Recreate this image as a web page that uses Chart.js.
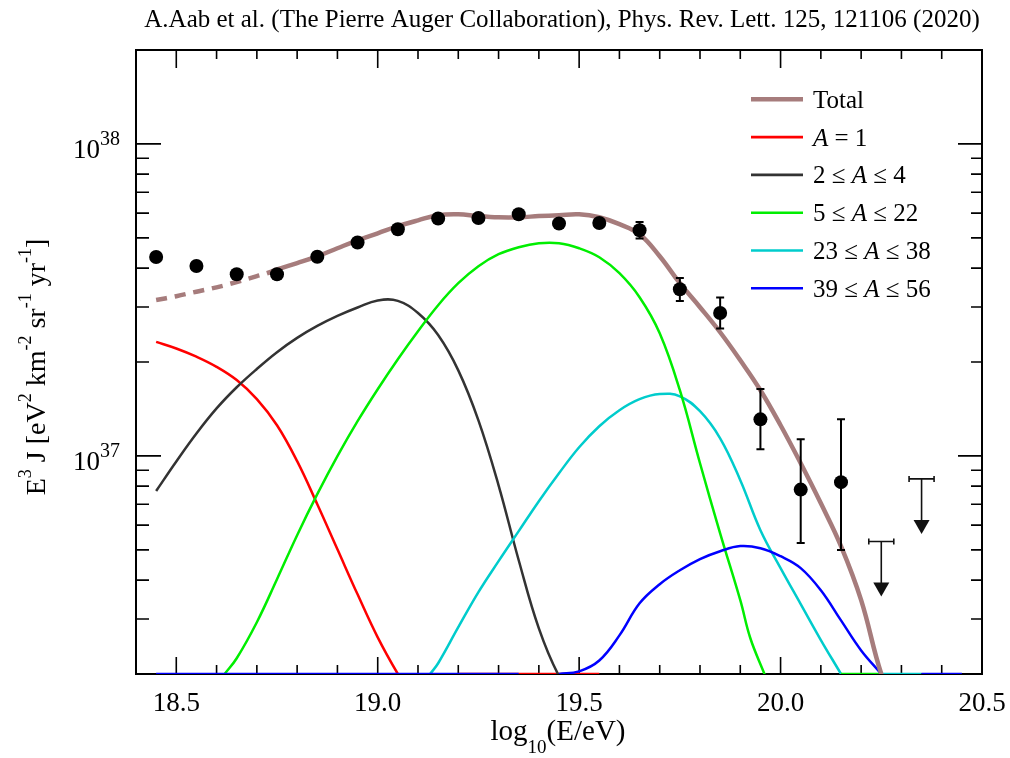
<!DOCTYPE html>
<html><head><meta charset="utf-8">
<script src="https://cdn.jsdelivr.net/npm/chart.js@4.4.1/dist/chart.umd.min.js"></script>
<style>html,body{margin:0;padding:0;background:#fff}#wrap{width:1010px;height:758px}</style>
</head><body><div id="wrap"><canvas id="c" width="1010" height="758"></canvas></div>
<script>
// ---------- text ----------
const titleText = 'A.Aab et al. (The Pierre Auger Collaboration), Phys. Rev. Lett. 125, 121106 (2020)';
const seriesNames = ['Total', 'A = 1', '2 ≤ A ≤ 4', '5 ≤ A ≤ 22', '23 ≤ A ≤ 38', '39 ≤ A ≤ 56'];

// ---------- axes ----------
const xAxisMin = 18.4, xAxisMax = 20.5;
const yAxisMin = 2e36, yAxisMax = 2e38;
const xMajorTicks = [18.5, 19.0, 19.5, 20.0, 20.5];
const xTickLabels = ['18.5', '19.0', '19.5', '20.0', '20.5'];
const xMinorTicks = [18.6, 18.7, 18.8, 18.9, 19.1, 19.2, 19.3, 19.4, 19.6, 19.7, 19.8, 19.9, 20.1, 20.2, 20.3, 20.4];
const yMajorTicks = [1e37, 1e38];
const yTickExponents = ['37', '38'];
const yMinorTicks = [3e36, 4e36, 5e36, 6e36, 7e36, 8e36, 9e36, 2e37, 3e37, 4e37, 5e37, 6e37, 7e37, 8e37, 9e37];

// ---------- measured points ----------
const pointX = [18.45, 18.55, 18.65, 18.75, 18.85, 18.95, 19.05, 19.15, 19.25, 19.35, 19.45, 19.55, 19.65, 19.75, 19.85, 19.95, 20.05, 20.15];
const pointY = [4.34e37, 4.06e37, 3.82e37, 3.82e37, 4.35e37, 4.83e37, 5.33e37, 5.77e37, 5.79e37, 5.95e37, 5.56e37, 5.58e37, 5.29e37, 3.42e37, 2.87e37, 1.31e37, 7.80e36, 8.24e36];
const pointErrHigh = [4.42e37, 4.13e37, 3.89e37, 3.89e37, 4.42e37, 4.90e37, 5.40e37, 5.84e37, 5.87e37, 6.04e37, 5.66e37, 5.70e37, 5.62e37, 3.72e37, 3.22e37, 1.64e37, 1.13e37, 1.31e37];
const pointErrLow = [4.26e37, 3.99e37, 3.75e37, 3.75e37, 4.28e37, 4.76e37, 5.26e37, 5.70e37, 5.71e37, 5.86e37, 5.46e37, 5.46e37, 4.98e37, 3.14e37, 2.56e37, 1.05e37, 5.26e36, 4.99e36];
const limitX = [20.25, 20.35];
const limitY = [5.32e36, 8.44e36];

// ---------- model curves (values below 2e36 fall under the axis floor) ----------
const totalDashEnd = 18.725;
const totalX = [18.45, 18.5, 18.55, 18.6, 18.65, 18.7, 18.725, 18.75, 18.8, 18.85, 18.9, 18.95, 19.0, 19.05, 19.1, 19.15, 19.2, 19.25, 19.3, 19.35, 19.4, 19.45, 19.5, 19.55, 19.6, 19.65, 19.7, 19.75, 19.8, 19.85, 19.9, 19.95, 20.0, 20.05, 20.1, 20.15, 20.2, 20.25, 20.3];
const totalY = [3.16e37, 3.25e37, 3.36e37, 3.47e37, 3.61e37, 3.77e37, 3.85e37, 3.96e37, 4.15e37, 4.36e37, 4.63e37, 4.91e37, 5.17e37, 5.45e37, 5.69e37, 5.91e37, 5.95e37, 5.87e37, 5.82e37, 5.82e37, 5.87e37, 5.91e37, 5.95e37, 5.82e37, 5.53e37, 5.135e37, 4.365e37, 3.577e37, 2.996e37, 2.491e37, 2.026e37, 1.624e37, 1.254e37, 9.475e36, 7.05e36, 5.14e36, 3.45e36, 2.0e36, 1.38e36];

const protonX = [18.45, 18.5, 18.55, 18.6, 18.65, 18.7, 18.75, 18.8, 18.85, 18.9, 18.95, 19.0, 19.05, 19.1, 19.15, 19.2, 19.55];
const protonY = [2.32e37, 2.21e37, 2.08e37, 1.93e37, 1.75e37, 1.52e37, 1.254e37, 9.62e36, 7.0e36, 5.02e36, 3.60e36, 2.62e36, 2.0e36, 1.58e36, null, 2.0e36, 2.0e36];

const heX = [18.45, 18.5, 18.55, 18.6, 18.65, 18.7, 18.75, 18.8, 18.85, 18.9, 18.95, 19.0, 19.05, 19.1, 19.15, 19.2, 19.25, 19.3, 19.35, 19.4, 19.45, 19.5];
const heY = [7.72e36, 9.6e36, 1.18e37, 1.42e37, 1.66e37, 1.90e37, 2.15e37, 2.39e37, 2.61e37, 2.81e37, 2.99e37, 3.15e37, 3.14e37, 2.87e37, 2.44e37, 1.88e37, 1.30e37, 8.05e36, 4.63e36, 2.80e36, 1.97e36, 1.59e36];

const cnoX = [18.62, 18.65, 18.7, 18.75, 18.8, 18.85, 18.9, 18.95, 19.0, 19.05, 19.1, 19.15, 19.2, 19.25, 19.3, 19.35, 19.4, 19.45, 19.5, 19.55, 19.6, 19.65, 19.7, 19.75, 19.8, 19.85, 19.9, 19.925, 19.96, 20.0, 20.1, 20.15, 20.25];
const cnoY = [2.0e36, 2.247e36, 2.931e36, 4.025e36, 5.57e36, 7.54e36, 9.98e36, 1.292e37, 1.636e37, 2.041e37, 2.509e37, 3.041e37, 3.577e37, 4.055e37, 4.43e37, 4.667e37, 4.806e37, 4.806e37, 4.632e37, 4.334e37, 3.851e37, 3.226e37, 2.473e37, 1.624e37, 9.475e36, 5.65e36, 3.45e36, 2.604e36, 2.0e36, 1.475e36, null, 2.0e36, 2.0e36];

const siX = [19.13, 19.15, 19.2, 19.25, 19.3, 19.35, 19.4, 19.45, 19.5, 19.55, 19.6, 19.65, 19.7, 19.75, 19.8, 19.85, 19.9, 19.95, 20.0, 20.05, 20.1, 20.15, 20.2, 20.22, 20.25, 20.35];
const siY = [2.0e36, 2.165e36, 2.825e36, 3.66e36, 4.60e36, 5.74e36, 7.16e36, 8.80e36, 1.066e37, 1.245e37, 1.401e37, 1.520e37, 1.578e37, 1.553e37, 1.391e37, 1.139e37, 8.36e36, 5.78e36, 4.37e36, 3.35e36, 2.57e36, 2.0e36, 1.55e36, null, 2.0e36, 2.0e36];

const feX = [18.45, 19.35, 19.4, 19.45, 19.5, 19.55, 19.6, 19.65, 19.7, 19.75, 19.8, 19.85, 19.9, 19.95, 20.0, 20.05, 20.1, 20.15, 20.2, 20.25, 20.3, 20.32, 20.35, 20.45];
const feY = [2.0e36, 2.0e36, null, 2.0e36, 2.04e36, 2.21e36, 2.66e36, 3.37e36, 3.88e36, 4.30e36, 4.67e36, 4.95e36, 5.14e36, 5.06e36, 4.77e36, 4.37e36, 3.71e36, 2.97e36, 2.38e36, 2.0e36, 1.66e36, null, 2.0e36, 2.0e36];

// ---------- helpers ----------
const zip = (xs, ys) => xs.map((x, i) => ({ x: x, y: ys[i] }));
const SERIF = '"Liberation Serif", "Times New Roman", serif';

function fontFor(p, size, small) {
  return (p.italic ? 'italic ' : '') + ((p.sup || p.sub) ? small : size) + 'px ' + SERIF;
}
function richWidth(ctx, parts, size, small) {
  let w = 0;
  parts.forEach(p => { ctx.font = fontFor(p, size, small); w += ctx.measureText(p.t).width; });
  return w;
}
function drawRich(ctx, parts, x, y, size, small, shiftUp, shiftDown, align) {
  const w = richWidth(ctx, parts, size, small);
  let cx = align === 'center' ? x - w / 2 : (align === 'right' ? x - w : x);
  ctx.textAlign = 'left';
  ctx.textBaseline = 'alphabetic';
  parts.forEach(p => {
    ctx.font = fontFor(p, size, small);
    const yy = p.sup ? y - shiftUp : (p.sub ? y + shiftDown : y);
    ctx.fillText(p.t, cx, yy);
    cx += ctx.measureText(p.t).width;
  });
}
function italicA(label) {
  const parts = [];
  const pieces = label.split('A');
  pieces.forEach((s, i) => {
    if (s) parts.push({ t: s });
    if (i < pieces.length - 1) parts.push({ t: 'A', italic: true });
  });
  return parts;
}

const deco = {
  id: 'deco',
  beforeDatasetsDraw(chart) {
    const ctx = chart.ctx, a = chart.chartArea;
    const xs = chart.scales.x, ys = chart.scales.y;
    ctx.save();
    ctx.strokeStyle = '#000';
    ctx.lineWidth = 2;
    ctx.strokeRect(a.left, a.top, a.right - a.left, a.bottom - a.top);
    ctx.lineWidth = 1.6;
    ctx.beginPath();
    xMajorTicks.forEach(v => {
      const px = xs.getPixelForValue(v);
      ctx.moveTo(px, a.bottom); ctx.lineTo(px, a.bottom - 17);
      ctx.moveTo(px, a.top); ctx.lineTo(px, a.top + 18);
    });
    xMinorTicks.forEach(v => {
      const px = xs.getPixelForValue(v);
      ctx.moveTo(px, a.bottom); ctx.lineTo(px, a.bottom - 9);
      ctx.moveTo(px, a.top); ctx.lineTo(px, a.top + 9);
    });
    yMajorTicks.forEach(v => {
      const py = ys.getPixelForValue(v);
      ctx.moveTo(a.left, py); ctx.lineTo(a.left + 25, py);
      ctx.moveTo(a.right, py); ctx.lineTo(a.right - 24, py);
    });
    yMinorTicks.forEach(v => {
      const py = ys.getPixelForValue(v);
      ctx.moveTo(a.left, py); ctx.lineTo(a.left + 13, py);
      ctx.moveTo(a.right, py); ctx.lineTo(a.right - 11, py);
    });
    ctx.stroke();
    ctx.restore();
  },
  afterDatasetsDraw(chart) {
    const ctx = chart.ctx;
    const xs = chart.scales.x, ys = chart.scales.y;
    ctx.save();
    ctx.strokeStyle = '#000';
    ctx.fillStyle = '#000';
    ctx.lineWidth = 2;
    ctx.beginPath();
    pointX.forEach((v, i) => {
      const px = xs.getPixelForValue(v);
      const hi = ys.getPixelForValue(pointErrHigh[i]);
      const lo = ys.getPixelForValue(pointErrLow[i]);
      ctx.moveTo(px, hi); ctx.lineTo(px, lo);
      ctx.moveTo(px - 4, hi); ctx.lineTo(px + 4, hi);
      ctx.moveTo(px - 4, lo); ctx.lineTo(px + 4, lo);
    });
    ctx.stroke();
    ctx.lineWidth = 1.6;
    ctx.strokeStyle = '#111';
    ctx.fillStyle = '#111';
    limitX.forEach((v, i) => {
      const px = xs.getPixelForValue(v);
      const py = ys.getPixelForValue(limitY[i]);
      ctx.beginPath();
      ctx.moveTo(px - 12.5, py); ctx.lineTo(px + 12.5, py);
      ctx.moveTo(px - 12.5, py - 3); ctx.lineTo(px - 12.5, py + 3);
      ctx.moveTo(px + 12.5, py - 3); ctx.lineTo(px + 12.5, py + 3);
      ctx.moveTo(px, py); ctx.lineTo(px, py + 42);
      ctx.stroke();
      ctx.beginPath();
      ctx.moveTo(px - 8, py + 41); ctx.lineTo(px + 8, py + 41); ctx.lineTo(px, py + 55);
      ctx.closePath();
      ctx.fill();
    });
    ctx.restore();
  },
  afterDraw(chart) {
    const ctx = chart.ctx;
    const xs = chart.scales.x, ys = chart.scales.y;
    ctx.save();
    ctx.fillStyle = '#000';
    // title
    ctx.font = '25px ' + SERIF;
    ctx.textAlign = 'center';
    ctx.textBaseline = 'alphabetic';
    ctx.fillText(titleText, 562, 27);
    // x tick labels
    ctx.font = '27px ' + SERIF;
    xMajorTicks.forEach((v, i) => {
      ctx.textAlign = 'center';
      ctx.fillText(xTickLabels[i], xs.getPixelForValue(v), 711);
    });
    // y tick labels
    yMajorTicks.forEach((v, i) => {
      const py = ys.getPixelForValue(v);
      drawRich(ctx, [{ t: '10' }, { t: yTickExponents[i], sup: true }], 120, py + 14, 27, 20, 13, 0, 'right');
    });
    // x title
    drawRich(ctx, [{ t: 'log' }, { t: '10', sub: true }, { t: '(E/eV)' }], 558, 740, 29, 19, 0, 13, 'center');
    // y title
    ctx.save();
    ctx.translate(36, 367);
    ctx.rotate(-Math.PI / 2);
    drawRich(ctx, [
      { t: 'E' }, { t: '3', sup: true }, { t: ' J [eV' }, { t: '2', sup: true },
      { t: ' km' }, { t: '-2', sup: true }, { t: ' sr' }, { t: '-1', sup: true },
      { t: ' yr' }, { t: '-1', sup: true }, { t: ']' }
    ], 0, 9, 28, 18, 14, 0, 'center');
    ctx.restore();
    // legend
    const lines = chart.data.datasets.slice(1);
    lines.forEach((ds, i) => {
      const yy = 99.3 + i * 37.8;
      ctx.strokeStyle = ds.borderColor;
      ctx.lineWidth = i === 0 ? 4.5 : 2.6;
      ctx.beginPath();
      ctx.moveTo(751, yy); ctx.lineTo(803, yy);
      ctx.stroke();
      ctx.fillStyle = '#000';
      drawRich(ctx, italicA(ds.label), 813, yy + 8.5, 25, 25, 0, 0, 'left');
    });
    ctx.restore();
  }
};

const lineBase = { pointRadius: 0, fill: false, tension: 0.4, spanGaps: false };

new Chart(document.getElementById('c'), {
  type: 'line',
  data: {
    datasets: [
      { label: 'data', data: zip(pointX, pointY), showLine: false, pointRadius: 7, pointBackgroundColor: '#000', pointBorderWidth: 0, order: 0 },
      Object.assign({ label: seriesNames[0], data: zip(totalX, totalY), borderColor: '#a67c7c', borderWidth: 4.5, order: 1,
        segment: { borderDash: ctx => ctx.p1.parsed.x <= totalDashEnd ? [11, 8] : undefined } }, lineBase),
      Object.assign({ label: seriesNames[1], data: zip(protonX, protonY), borderColor: '#ff0000', borderWidth: 2.5, order: 6 }, lineBase),
      Object.assign({ label: seriesNames[2], data: zip(heX, heY), borderColor: '#333333', borderWidth: 2.5, order: 5 }, lineBase),
      Object.assign({ label: seriesNames[3], data: zip(cnoX, cnoY), borderColor: '#00ee00', borderWidth: 2.5, order: 3 }, lineBase),
      Object.assign({ label: seriesNames[4], data: zip(siX, siY), borderColor: '#00cccc', borderWidth: 2.5, order: 4 }, lineBase),
      Object.assign({ label: seriesNames[5], data: zip(feX, feY), borderColor: '#0000ff', borderWidth: 2.5, order: 2 }, lineBase)
    ]
  },
  options: {
    responsive: false,
    animation: false,
    events: [],
    layout: { padding: { left: 136, right: 28, top: 50, bottom: 84 } },
    scales: {
      x: { type: 'linear', min: xAxisMin, max: xAxisMax, display: false },
      y: { type: 'logarithmic', min: yAxisMin, max: yAxisMax, display: false }
    },
    plugins: { legend: { display: false }, tooltip: { enabled: false }, title: { display: false } }
  },
  plugins: [deco]
});
</script>
</body></html>
